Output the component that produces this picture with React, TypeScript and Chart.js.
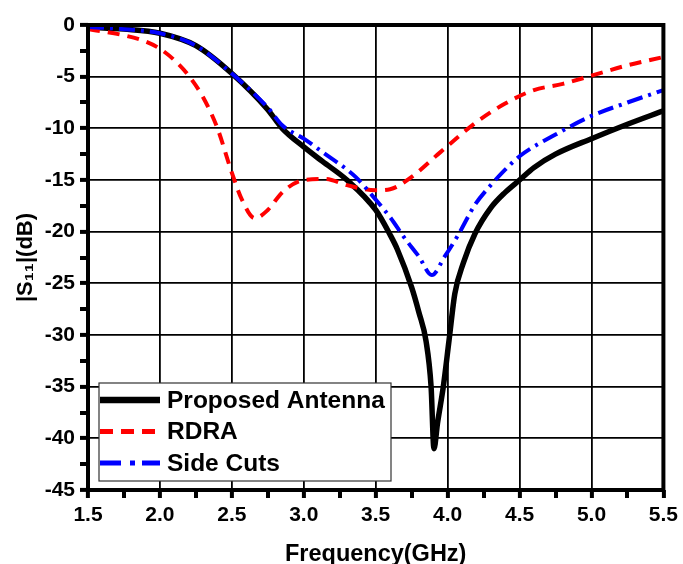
import React, { useEffect, useRef } from 'react';
import Chart from 'chart.js/auto';

// Frequency (GHz) and |S11| (dB) for each series
const freqProposed = [1.5, 1.75, 2.0, 2.25, 2.5, 2.75, 2.85, 3.0, 3.13, 3.3, 3.5, 3.6, 3.65, 3.75, 3.8, 3.85, 3.885, 3.905, 3.93, 3.97, 4.01, 4.05, 4.11, 4.19, 4.3, 4.4, 4.5, 4.6, 4.75, 5.0, 5.25, 5.5];
const s11Proposed = [-0.2, -0.4, -0.8, -2.0, -4.7, -8.2, -10.0, -11.8, -13.2, -15.0, -17.9, -20.3, -21.7, -25.4, -27.8, -30.6, -35.0, -41.0, -38.5, -35.0, -30.5, -26.0, -23.0, -20.2, -17.7, -16.2, -15.0, -13.8, -12.5, -11.0, -9.6, -8.3];

const freqRDRA = [1.5, 1.75, 1.9, 2.0, 2.1, 2.2, 2.3, 2.4, 2.5, 2.57, 2.66, 2.75, 2.85, 3.0, 3.15, 3.3, 3.5, 3.6, 3.75, 3.95, 4.2, 4.4, 4.6, 4.8, 5.0, 5.25, 5.5];
const s11RDRA = [-0.4, -1.0, -1.6, -2.3, -3.4, -4.9, -7.0, -10.0, -14.3, -16.9, -18.7, -17.9, -16.2, -15.0, -14.9, -15.5, -16.0, -15.9, -14.7, -12.3, -9.4, -7.6, -6.3, -5.7, -4.9, -3.9, -3.1];

const freqSideCuts = [1.5, 1.75, 2.0, 2.25, 2.5, 2.75, 2.85, 3.0, 3.13, 3.36, 3.5, 3.6, 3.7, 3.8, 3.89, 3.98, 4.07, 4.19, 4.3, 4.4, 4.5, 4.75, 5.0, 5.25, 5.5];
const s11SideCuts = [-0.2, -0.4, -0.8, -2.0, -4.7, -8.0, -9.7, -11.0, -12.3, -14.7, -16.9, -18.6, -20.6, -22.4, -24.2, -22.4, -20.4, -17.4, -15.5, -14.0, -12.7, -10.6, -8.8, -7.5, -6.3];

const seriesLabels = ['Proposed Antenna', 'RDRA', 'Side Cuts'];

const X_MIN = 1.5, X_MAX = 5.5, X_STEP = 0.25;
const Y_MIN = -45, Y_MAX = 0, Y_STEP = 2.5;

const FONT = '"Liberation Sans", Arial, sans-serif';

const toPoints = (xs: number[], ys: number[]) => xs.map((x, i) => ({ x, y: ys[i] }));
const isMajorX = (v: number) => Math.abs(v * 2 - Math.round(v * 2)) < 1e-6;
const isMajorY = (v: number) => Math.abs(v / 5 - Math.round(v / 5)) < 1e-6;

const framePlugin = {
  id: 'frame',
  afterDatasetsDraw(chart: any) {
    const { ctx, chartArea } = chart;
    ctx.save();
    ctx.strokeStyle = '#000';
    ctx.lineWidth = 4;
    ctx.strokeRect(chartArea.left, chartArea.top, chartArea.right - chartArea.left, chartArea.bottom - chartArea.top);
    ctx.restore();
  },
};

const legendPlugin = {
  id: 'boxLegend',
  afterDraw(chart: any) {
    const { ctx, chartArea } = chart;
    const left = chartArea.left + 11;
    const bottom = chartArea.bottom - 9;
    const w = 292;
    const h = 98;
    const top = bottom - h;
    ctx.save();
    ctx.fillStyle = '#fff';
    ctx.fillRect(left, top, w, h);
    ctx.strokeStyle = '#333';
    ctx.lineWidth = 1.2;
    ctx.strokeRect(left, top, w, h);
    chart.data.datasets.forEach((ds: any, i: number) => {
      const y = top + 17 + i * 31.5;
      ctx.beginPath();
      ctx.setLineDash(ds.legendDash || []);
      ctx.strokeStyle = ds.borderColor;
      ctx.lineWidth = ds.legendWidth;
      ctx.lineCap = 'butt';
      ctx.moveTo(left + 1, y);
      ctx.lineTo(left + 61, y);
      ctx.stroke();
      ctx.setLineDash([]);
      ctx.fillStyle = '#000';
      ctx.font = `bold 24.5px ${FONT}`;
      ctx.textBaseline = 'middle';
      ctx.textAlign = 'left';
      ctx.fillText(ds.label, left + 68, y + 1);
    });
    ctx.restore();
  },
};

export default function App() {
  const ref = useRef<HTMLCanvasElement | null>(null);

  useEffect(() => {
    if (!ref.current) return;
    const chart = new Chart(ref.current, {
      type: 'line',
      data: {
        datasets: [
          {
            label: seriesLabels[0],
            data: toPoints(freqProposed, s11Proposed),
            borderColor: '#000000',
            borderWidth: 5.5,
            pointRadius: 0,
            cubicInterpolationMode: 'monotone',
            order: 3,
            legendWidth: 6.5,
            legendDash: [],
          } as any,
          {
            label: seriesLabels[1],
            data: toPoints(freqRDRA, s11RDRA),
            borderColor: '#ff0000',
            borderWidth: 4,
            borderDash: [12, 8],
            pointRadius: 0,
            cubicInterpolationMode: 'monotone',
            order: 2,
            legendWidth: 5,
            legendDash: [13, 8],
          } as any,
          {
            label: seriesLabels[2],
            data: toPoints(freqSideCuts, s11SideCuts),
            borderColor: '#0000ff',
            borderWidth: 4,
            borderDash: [16, 6, 3, 6],
            pointRadius: 0,
            cubicInterpolationMode: 'monotone',
            order: 1,
            legendWidth: 5,
            legendDash: [21, 9, 5, 7],
          } as any,
        ],
      },
      options: {
        responsive: false,
        animation: false,
        devicePixelRatio: 1,
        layout: { padding: { top: 25, right: 17, left: 0, bottom: 0 } },
        plugins: {
          legend: { display: false },
          tooltip: { enabled: false },
        },
        scales: {
          x: {
            type: 'linear',
            min: X_MIN,
            max: X_MAX,
            afterFit: (s: any) => { s.height = 74; },
            afterBuildTicks: (s: any) => {
              const t = [];
              for (let v = X_MIN; v <= X_MAX + 1e-9; v += X_STEP) t.push({ value: Math.round(v * 100) / 100 });
              s.ticks = t;
            },
            ticks: {
              autoSkip: false,
              maxRotation: 0,
              padding: 5,
              color: '#000',
              font: { family: FONT, size: 21, weight: 'bold' },
              callback: (v: any) => (isMajorX(Number(v)) ? Number(v).toFixed(1) : ''),
            },
            grid: {
              color: (c: any) => (isMajorX(c.tick.value) ? '#000' : 'rgba(0,0,0,0)'),
              lineWidth: (c: any) => (isMajorX(c.tick.value) ? 1.8 : 0),
              tickColor: '#000',
              tickLength: 8,
              tickWidth: 4,
            },
            border: { display: false },
            title: {
              display: true,
              text: 'Frequency(GHz)',
              color: '#000',
              font: { family: FONT, size: 23.5, weight: 'bold', lineHeight: 1 },
              padding: { top: 0, bottom: -2 },
            },
          },
          y: {
            type: 'linear',
            min: Y_MIN,
            max: Y_MAX,
            afterFit: (s: any) => { s.width = 88; },
            afterBuildTicks: (s: any) => {
              const t = [];
              for (let v = Y_MIN; v <= Y_MAX + 1e-9; v += Y_STEP) t.push({ value: v });
              s.ticks = t;
            },
            ticks: {
              autoSkip: false,
              padding: 5,
              color: '#000',
              font: { family: FONT, size: 21, weight: 'bold' },
              callback: (v: any) => (isMajorY(Number(v)) ? String(Number(v) === 0 ? 0 : Number(v)) : ''),
            },
            grid: {
              color: (c: any) => (isMajorY(c.tick.value) ? '#000' : 'rgba(0,0,0,0)'),
              lineWidth: (c: any) => (isMajorY(c.tick.value) ? 1.8 : 0),
              tickColor: '#000',
              tickLength: 8,
              tickWidth: 4,
            },
            border: { display: false },
            title: {
              display: true,
              text: '|S₁₁|(dB)',
              color: '#000',
              font: { family: FONT, size: 22, weight: 'bold', lineHeight: 1.2 },
              padding: { top: 13, bottom: 0 },
            },
          },
        },
      } as any,
      plugins: [framePlugin, legendPlugin],
    });
    return () => chart.destroy();
  }, []);

  return (
    <div style={{ position: 'absolute', left: 0, top: 0, width: 683, height: 564, background: '#fff' }}>
      <canvas ref={ref} width={683} height={564} style={{ display: 'block' }} />
    </div>
  );
}
